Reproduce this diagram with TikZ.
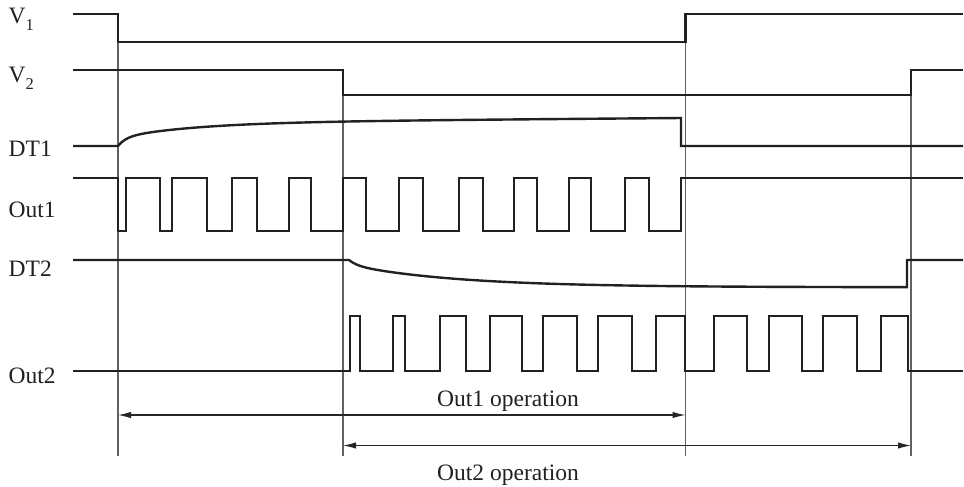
\documentclass[tikz,border=0pt]{standalone}
\usepackage{fontspec}
\setmainfont{Liberation Serif}
\usetikzlibrary{arrows.meta}
\newcommand\mysub[1]{\raisebox{-6pt}{\fontsize{16.5}{18}\selectfont #1}}
\begin{document}
\begin{tikzpicture}[x=1pt,y=-1pt,
  sig/.style={line width=2.4pt, draw=black!87, line join=miter},
  guide/.style={line width=1.1pt, draw=black!62},
  dim/.style={line width=1.2pt, draw=black!85,
    {Latex[length=13pt,width=6.5pt]}-{Latex[length=13pt,width=6.5pt]}},
  lbl/.style={inner sep=0pt, anchor=base west, font=\fontsize{23.5}{28}\selectfont, text=black!87},
  oplbl/.style={inner sep=0pt, anchor=base, font=\fontsize{23.5}{28}\selectfont, text=black!87}]
\useasboundingbox (0,0) rectangle (964,487);

% labels
\node[lbl] (lv1)  at (8.5,24)  {V\mysub{1}};
\node[lbl] (lv2)  at (8.5,83)  {V\mysub{2}};
\node[lbl] (ldt1) at (8.5,156) {DT1};
\node[lbl] (lo1)  at (8.5,217) {Out1};
\node[lbl] (ldt2) at (8.5,276) {DT2};
\node[lbl] (lo2)  at (8.5,383) {Out2};

% guide coordinates
\coordinate (ga1) at (118,42);  \coordinate (gb1) at (118,456);
\coordinate (ga2) at (343,95);  \coordinate (gb2) at (343,456);
\coordinate (ga3) at (685.5,42);  \coordinate (gb3) at (685.5,456);
\coordinate (ga4) at (911,95);  \coordinate (gb4) at (911,456);
\draw[guide] (ga1) -- (gb1);
\draw[guide] (ga2) -- (gb2);
\draw[guide] (ga3) -- (gb3);
\draw[guide] (ga4) -- (gb4);

% V1
\draw[sig] (73,14) -| (118,42) -| (685.5,14) -- (963,14);
% V2
\draw[sig] (73,70) -| (343,95) -| (911,70) -- (963,70);
% DT1
\draw[sig] (73,146) -- (118,146) -- plot[domain=0:563, samples=160]
  ({118+\x},{146-8.5*(1-exp(max(-\x/8,-9)))-15*(1-exp(max(-\x/80,-9)))-0.008*\x})
  -- (681,146) -- (963,146);
% Out1
\draw[sig] (73,178) -| (118,231) -| (126,178) -| (160,231) -| (172,178)
  -| (207,231) -| (232,178) -| (257,231) -| (289,178) -| (311,231)
  -| (343,178) -| (366,231) -| (399,178) -| (423,231) -| (459,178)
  -| (483,231) -| (514,178) -| (537,231) -| (569,178) -| (591,231)
  -| (625,178) -| (649,231) -| (681,178) -- (963,178);
% DT2
\draw[sig] (73,260) -- (349,260) -- plot[domain=0:558, samples=160]
  ({349+\x},{260+5*(1-exp(max(-\x/8,-9)))+22.3*(1-exp(max(-\x/110,-9)))})
  -- (907,260) -- (963,260);
% Out2
\draw[sig] (73,371) -| (350,316) -| (360,371) -| (393,316) -| (405,371)
  -| (440,316) -| (466,371) -| (490,316) -| (522,371) -| (543,316)
  -| (577,371) -| (598,316) -| (632,371) -| (656,316) -| (685,371)
  -| (714,316) -| (747,371) -| (769,316) -| (802,371) -| (823,316)
  -| (857,371) -| (881,316) -| (908,371) -- (963,371);

% operation arrows
\coordinate (a1l) at (118,415); \coordinate (a1r) at (685.5,415);
\coordinate (a2l) at (343,445.5); \coordinate (a2r) at (911,445.5);
\draw[dim] (a1l) -- (a1r);
\draw[dim] (a2l) -- (a2r);
\node[oplbl] (op1) at (508,406.7) {Out1 operation};
\node[oplbl] (op2) at (508,480) {Out2 operation};
\end{tikzpicture}
\end{document}
